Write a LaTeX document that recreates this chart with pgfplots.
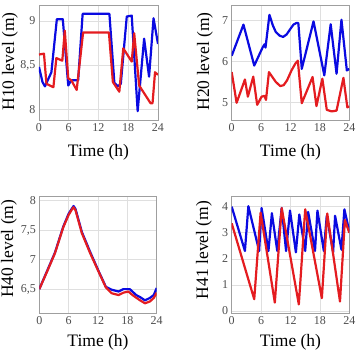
\documentclass[border=0pt]{standalone}
\usepackage{pgfplots}
\pgfplotsset{compat=1.18}
\usepackage{fontspec}
\setmainfont{Liberation Serif}

\definecolor{lineblue}{RGB}{10,10,225}
\definecolor{linered}{RGB}{228,28,32}

\pgfplotsset{
  panel/.style={
    anchor=south west,
    scale only axis,
    xmin=0, xmax=24,
    xtick={0,6,12,18,24},
    grid=major,
    major grid style={gray!25, line width=0.6pt},
    axis line style={gray!75, line width=0.7pt},
    major tick length=0pt,
    tick label style={font=\fontsize{12}{12}\selectfont, text=black!70},
    label style={font=\fontsize{17.5}{18}\selectfont, inner sep=0pt},
    /pgf/number format/.cd, use comma, assume math mode=true,
    /pgfplots/.cd,
    xlabel={Time (h)},
    clip=true,
  },
  bl/.style={lineblue, line width=2.2pt, line join=round, mark=none},
  rd/.style={linered, line width=2.2pt, line join=round, mark=none},
}

\begin{document}
\begin{tikzpicture}
\useasboundingbox (0,0) rectangle (359pt,354pt);

% ---- H10 ----
\begin{axis}[panel, at={(39pt,234pt)}, width=119pt, height=115pt,
  ymin=7.88, ymax=9.18, ytick={8,8.5,9},
  ylabel={H10 level (m)},
  xlabel style={at={(axis description cs:0.5,-0.28)}, anchor=center},
  ylabel style={at={(axis description cs:-0.244,0.51)}, anchor=center}]
\addplot[bl] coordinates {
(0,8.48) (0.7,8.31) (1.2,8.26) (2.5,8.42) (3.6,9.02) (4.8,9.02) (5.9,8.27)
(6.5,8.33) (7.9,8.33) (8.8,9.08) (14.2,9.08) (15.2,8.30) (15.9,8.26) (16.5,8.29)
(17.7,9.05) (18.7,9.06) (19.9,7.98) (21.2,8.80) (22.2,8.37) (23.1,9.03) (24,8.74)};
\addplot[rd] coordinates {
(0,8.62) (1.0,8.63) (1.5,8.29) (2.9,8.25) (3.5,8.58) (4.7,8.55) (5.2,8.89)
(5.9,8.35) (6.5,8.33) (7.6,8.22) (8.9,8.87) (14.1,8.87) (14.9,8.31) (16.2,8.20)
(17.0,8.69) (18.7,8.54) (19.2,8.86) (20.2,8.27) (22.5,8.07) (22.9,8.07)
(23.4,8.42) (24,8.39)};
\end{axis}

% ---- H20 ----
\begin{axis}[panel, at={(231.7pt,234pt)}, width=117.6pt, height=115pt,
  ymin=4.57, ymax=7.38, ytick={5,6,7},
  ylabel={H20 level (m)},
  xlabel style={at={(axis description cs:0.5,-0.28)}, anchor=center},
  ylabel style={at={(axis description cs:-0.227,0.51)}, anchor=center}]
\addplot[bl] coordinates {
(0,6.14) (2.4,6.90) (4.6,5.90) (6.3,6.34) (6.7,6.42) (6.9,6.34) (7.7,7.14)
(8.4,6.88) (9.0,6.72) (9.8,6.63) (10.5,6.60) (11.2,6.66) (12.0,6.80) (12.6,6.90)
(13.2,6.94) (13.6,6.94) (14.3,5.82) (16.7,6.98) (18.9,5.66) (20.2,6.91)
(21.4,5.70) (22.4,7.02) (23.5,5.78) (24,5.82)};
\addplot[rd] coordinates {
(0,5.74) (1.0,4.99) (2.7,5.56) (3.3,5.14) (4.4,5.63) (5.2,4.94) (6.1,5.14)
(6.7,5.16) (7.0,5.06) (7.6,5.74) (8.3,5.62) (9.0,5.50) (9.9,5.40) (10.6,5.42)
(11.3,5.54) (12.2,5.78) (13.0,5.95) (13.5,6.02) (14.3,4.98) (16.5,5.62)
(17.3,4.91) (18.5,5.58) (19.4,4.82) (20.4,4.78) (21.4,4.80) (22.8,5.60)
(23.6,4.88) (24,4.90)};
\end{axis}

% ---- H40 ----
\begin{axis}[panel, at={(39.3pt,40.7pt)}, width=117.4pt, height=117.3pt,
  ymin=6.09, ymax=8.08, ytick={6.5,7,7.5,8},
  ylabel={H40 level (m)},
  xlabel style={at={(axis description cs:0.5,-0.25)}, anchor=center},
  ylabel style={at={(axis description cs:-0.258,0.55)}, anchor=center}]
\addplot[bl] coordinates {
(0,6.50) (3.2,7.12) (4.9,7.56) (6.0,7.78) (7.0,7.91) (7.4,7.86) (8.7,7.47)
(10.4,7.13) (12.1,6.81) (13.6,6.54) (14.8,6.49) (16.2,6.46) (17.2,6.50)
(18.5,6.50) (19.8,6.40) (20.7,6.36) (21.6,6.31) (22.6,6.35) (23.4,6.40) (24,6.52)};
\addplot[rd] coordinates {
(0,6.50) (1.6,6.80) (3.2,7.11) (4.9,7.55) (6.0,7.76) (6.8,7.87) (7.0,7.89)
(7.4,7.84) (8.7,7.45) (10.4,7.11) (12.1,6.80) (13.6,6.53) (14.8,6.43)
(16.2,6.40) (17.2,6.44) (18.2,6.46) (19.2,6.39) (20.6,6.31) (21.6,6.26)
(22.6,6.29) (23.4,6.35) (24,6.44)};
\end{axis}

% ---- H41 ----
\begin{axis}[panel, at={(231.7pt,40.7pt)}, width=117.6pt, height=117.3pt,
  ymin=-0.09, ymax=4.41, ytick={0,1,2,3,4},
  ylabel={H41 level (m)},
  xlabel style={at={(axis description cs:0.5,-0.25)}, anchor=center},
  ylabel style={at={(axis description cs:-0.236,0.54)}, anchor=center}]
\addplot[bl] coordinates {
(0,4.00) (2.7,2.30) (3.4,4.02) (5.6,2.30) (6.1,3.95) (7.5,2.30) (8.2,3.75)
(9.3,2.30) (10.2,3.95) (11.1,2.30) (11.9,3.85) (13.1,2.25) (13.8,3.70)
(15.0,2.30) (15.6,3.80) (17.0,2.30) (17.5,3.85) (18.8,2.30) (19.4,3.65)
(20.7,2.25) (21.1,3.65) (22.4,2.35) (23.0,3.90) (24,3.05)};
\addplot[rd] coordinates {
(0,3.36) (4.6,0.45) (5.9,3.77) (8.8,0.32) (10.2,3.95) (13.7,0.25) (15.0,3.90)
(18.4,0.49) (19.5,3.74) (22.1,0.36) (23.1,3.49) (24,3.00)};
\end{axis}
\end{tikzpicture}
\end{document}
